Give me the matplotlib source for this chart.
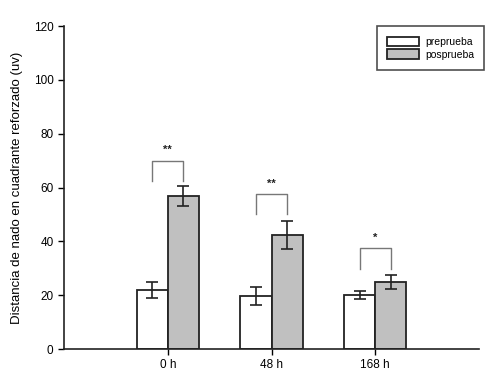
import matplotlib
matplotlib.use("Agg")
import matplotlib.pyplot as plt
import numpy as np

plt.rcParams['font.family'] = ['Liberation Sans', 'DejaVu Sans']

categories = ["0 h", "48 h", "168 h"]
pre_vals = [22, 19.7, 20]
pre_err = [3.0, 3.2, 1.4]
pos_vals = [57, 42.3, 24.8]
pos_err = [3.7, 5.3, 2.6]
series_names = ["preprueba", "posprueba"]
sig_labels = ["**", "**", "*"]
sig_top = [70, 57.5, 37.4]
sig_bottom = [62.5, 50.2, 29.6]

fig = plt.figure(figsize=(5.0, 3.84), dpi=100)
ax = fig.add_axes([0.128, 0.091, 0.83, 0.841])

x = np.arange(1, len(categories) + 1)
w = 0.3
ax.bar(x - w / 2, pre_vals, w, color='white', edgecolor='#222222', linewidth=1.3,
       label=series_names[0], zorder=2)
ax.bar(x + w / 2, pos_vals, w, color='#c0c0c0', edgecolor='#222222', linewidth=1.3,
       label=series_names[1], zorder=2)
ax.errorbar(x - w / 2, pre_vals, yerr=pre_err, fmt='none', ecolor='#222222',
            elinewidth=1.2, capsize=4, capthick=1.2, zorder=3)
ax.errorbar(x + w / 2, pos_vals, yerr=pos_err, fmt='none', ecolor='#222222',
            elinewidth=1.2, capsize=4, capthick=1.2, zorder=3)

for xi, top, bot, lab in zip(x, sig_top, sig_bottom, sig_labels):
    ax.plot([xi - w / 2, xi - w / 2, xi + w / 2, xi + w / 2], [bot, top, top, bot],
            color='#777777', linewidth=1.0, zorder=3)
    ax.text(xi, top + 2.0, lab, ha='center', va='bottom', fontsize=8,
            fontweight='bold', color='#222222')

ax.set_xlim(0, 4)
ax.set_ylim(0, 120)
ax.set_xticks(x)
ax.set_xticklabels(categories, fontsize=8.5)
ax.set_yticks(np.arange(0, 121, 20))
ax.tick_params(axis='y', labelsize=8.5, direction='out', length=4, width=1)
ax.tick_params(axis='x', direction='out', length=4, width=1)
for s in ['top', 'right']:
    ax.spines[s].set_visible(False)
for s in ['left', 'bottom']:
    ax.spines[s].set_linewidth(1.2)
    ax.spines[s].set_color('#222222')
ax.set_ylabel("Distancia de nado en cuadrante reforzado (uv)", fontsize=9.5, labelpad=8)

leg = ax.legend(loc='upper right', bbox_to_anchor=(1.013, 1.0), borderaxespad=0,
                fontsize=7.5, frameon=True, fancybox=False, edgecolor='#222222',
                handlelength=3.0, handleheight=1.0, borderpad=1.0, labelspacing=0.25,
                handletextpad=0.6)
leg.get_frame().set_linewidth(1.2)

fig.savefig("out.png", dpi=100)
